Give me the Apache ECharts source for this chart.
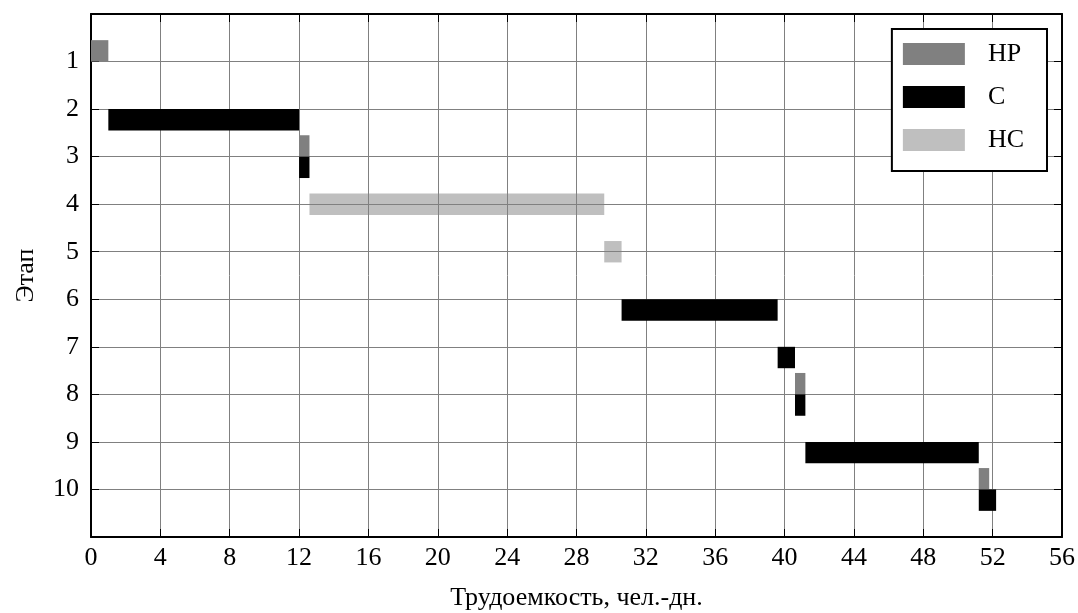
<!DOCTYPE html>
<html>
<head>
<meta charset="utf-8">
<script src="https://cdn.jsdelivr.net/npm/echarts@6/dist/echarts.min.js"></script>
<style>
  html, body { margin: 0; padding: 0; background: #fff; }
  #chart { width: 1078px; height: 613px; }
</style>
</head>
<body>
<div id="chart"></div>
<script>
// этапы и трудоемкость (чел.-дн.)
const hpStage = [1, 3, 8, 10]
const hpStart = [0, 12, 40.6, 51.2]
const hpEnd = [1, 12.6, 41.2, 51.8]

const cStage = [2, 3, 6, 7, 8, 9, 10]
const cStart = [1, 12, 30.6, 39.6, 40.6, 41.2, 51.2]
const cEnd = [12, 12.6, 39.6, 40.6, 41.2, 51.2, 52.2]

const hcStage = [4, 5]
const hcStart = [12.6, 29.6]
const hcEnd = [29.6, 30.6]

const stageLabels = ['1', '2', '3', '4', '5', '6', '7', '8', '9', '10']

const font = 'Liberation Serif'
const barH = 0.45

function rows(stage, start, end) {
  return stage.map((s, i) => [start[i], end[i], s])
}

// shift: 0 = над линией, 0.5 = по центру, 1 = под линией
function ganttSeries(name, color, data, shift) {
  return {
    name: name,
    type: 'custom',
    xAxisIndex: 0,
    yAxisIndex: 0,
    itemStyle: { color: color },
    data: data,
    renderItem: function(params, api) {
      const y0 = api.value(2) - barH + shift * barH
      const p0 = api.coord([api.value(0), y0])
      const p1 = api.coord([api.value(1), y0 + barH])
      return {
        type: 'rect',
        shape: { x: p0[0], y: p0[1], width: p1[0] - p0[0], height: p1[1] - p0[1] },
        style: { fill: color }
      }
    }
  }
}

function tick() {
  return { show: true, inside: true, length: 8, lineStyle: { color: '#000', width: 1 } }
}
function frame() {
  return { show: true, onZero: false, lineStyle: { color: '#000', width: 2 } }
}

const chart = echarts.init(document.getElementById('chart'))

chart.setOption({
  animation: false,
  textStyle: { fontFamily: font },
  grid: { left: 91, right: 16, top: 14, bottom: 76, outerBoundsMode: 'none' },
  legend: {
    right: 31,
    top: 29,
    orient: 'vertical',
    icon: 'rect',
    itemWidth: 62,
    itemHeight: 22,
    itemGap: 17,
    padding: [12, 23, 18, 11],
    borderColor: '#000',
    borderWidth: 2,
    backgroundColor: '#fff',
    textStyle: { fontFamily: font, fontSize: 26, color: '#000', padding: [0, 0, 0, 18] },
    data: ['HP', 'C', 'HC']
  },
  xAxis: [
    {
      type: 'value',
      min: 0,
      max: 56,
      interval: 4,
      name: 'Трудоемкость, чел.-дн.',
      nameLocation: 'middle',
      nameGap: 48,
      nameTextStyle: { fontFamily: font, fontSize: 26, color: '#000' },
      axisLine: frame(),
      axisTick: tick(),
      axisLabel: { fontFamily: font, fontSize: 26, color: '#000', margin: 8 },
      splitLine: { show: true, lineStyle: { color: '#808080', width: 1 } }
    },
    {
      type: 'value',
      position: 'top',
      min: 0,
      max: 56,
      interval: 4,
      axisLine: frame(),
      axisTick: tick(),
      axisLabel: { show: false },
      splitLine: { show: false }
    }
  ],
  yAxis: [
    {
      type: 'value',
      inverse: true,
      min: 0,
      max: 11,
      interval: 1,
      name: 'Этап',
      nameLocation: 'middle',
      nameGap: 52,
      nameRotate: 90,
      nameTextStyle: { fontFamily: font, fontSize: 26, color: '#000' },
      axisLine: frame(),
      axisTick: tick(),
      axisLabel: {
        fontFamily: font,
        fontSize: 26,
        color: '#000',
        margin: 12,
        formatter: function(v) {
          return stageLabels[v - 1] || ''
        }
      },
      splitLine: { show: true, lineStyle: { color: '#808080', width: 1 } }
    },
    {
      type: 'value',
      position: 'right',
      inverse: true,
      min: 0,
      max: 11,
      interval: 1,
      axisLine: frame(),
      axisTick: tick(),
      axisLabel: { show: false },
      splitLine: { show: false }
    }
  ],
  series: [
    ganttSeries('HP', '#808080', rows(hpStage, hpStart, hpEnd), 0),
    ganttSeries('C', '#000000', rows(cStage, cStart, cEnd), 1),
    ganttSeries('HC', 'rgba(128,128,128,0.5)', rows(hcStage, hcStart, hcEnd), 0.5)
  ]
})
</script>
</body>
</html>
